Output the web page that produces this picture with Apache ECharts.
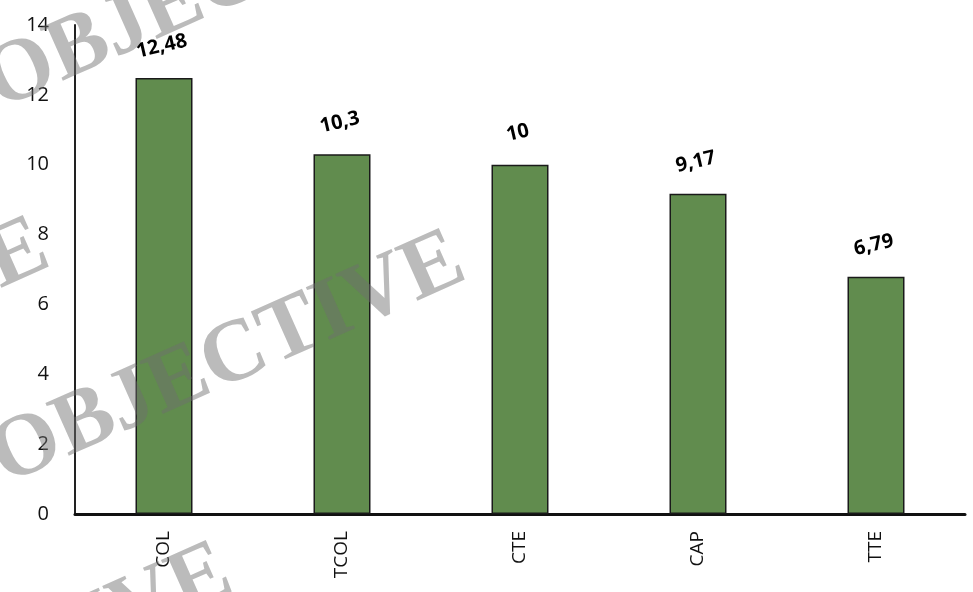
<!DOCTYPE html>
<html>
<head>
<meta charset="utf-8">
<script src="https://cdn.jsdelivr.net/npm/echarts@6/dist/echarts.min.js"></script>
<style>html,body{margin:0;padding:0;background:#fff}#c{width:973px;height:592px}</style>
</head>
<body>
<div id="c"></div>
<script>
const categories = ['COL', 'TCOL', 'CTE', 'CAP', 'TTE'];
const values = [12.48, 10.3, 10, 9.17, 6.79];
const yTicks = [0, 2, 4, 6, 8, 10, 12, 14];
const watermarkText = 'OBJECTIVE';

const chart = echarts.init(document.getElementById('c'));
const wmStyle = {
  text: watermarkText,
  fill: 'rgba(110,110,110,0.47)',
  font: 'bold 88px "Liberation Serif", "DejaVu Serif", serif',
  textAlign: 'center',
  textVerticalAlign: 'middle'
};
const ang = 24 * Math.PI / 180;
function wm(x, y) {
  return { type: 'text', x: x, y: y, rotation: ang, z: 100, silent: true, style: Object.assign({}, wmStyle) };
}
chart.setOption({
  animation: false,
  grid: { left: 75, right: 8, top: 25, bottom: 78, containLabel: false },
  xAxis: {
    type: 'category',
    data: categories,
    axisLine: { show: true, lineStyle: { color: '#111', width: 3 } },
    axisTick: { show: false },
    axisLabel: { rotate: 90, margin: 17, fontSize: 19, color: '#111', fontFamily: '"Open Sans", sans-serif' }
  },
  yAxis: {
    type: 'value',
    min: yTicks[0],
    max: yTicks[yTicks.length - 1],
    interval: 2,
    axisLine: { show: true, lineStyle: { color: '#222', width: 2 } },
    axisTick: { show: false },
    splitLine: { show: false },
    axisLabel: { margin: 26, fontSize: 20, color: '#111', fontFamily: '"Open Sans", sans-serif' }
  },
  series: [{
    type: 'bar',
    data: values,
    barWidth: 57,
    itemStyle: { color: '#618c4e', borderColor: '#1a1a1a', borderWidth: 1.5 },
    label: {
      show: true,
      position: 'top',
      distance: 22,
      rotate: 13,
      fontSize: 20,
      fontWeight: 'bold',
      color: '#000',
      fontFamily: '"Open Sans", sans-serif',
      formatter: p => String(p.value).replace('.', ',')
    }
  }],
  graphic: [
    wm(228, 360),
    wm(222, -15),
    wm(-188, 347),
    wm(-5, 672)
  ]
});
</script>
</body>
</html>
